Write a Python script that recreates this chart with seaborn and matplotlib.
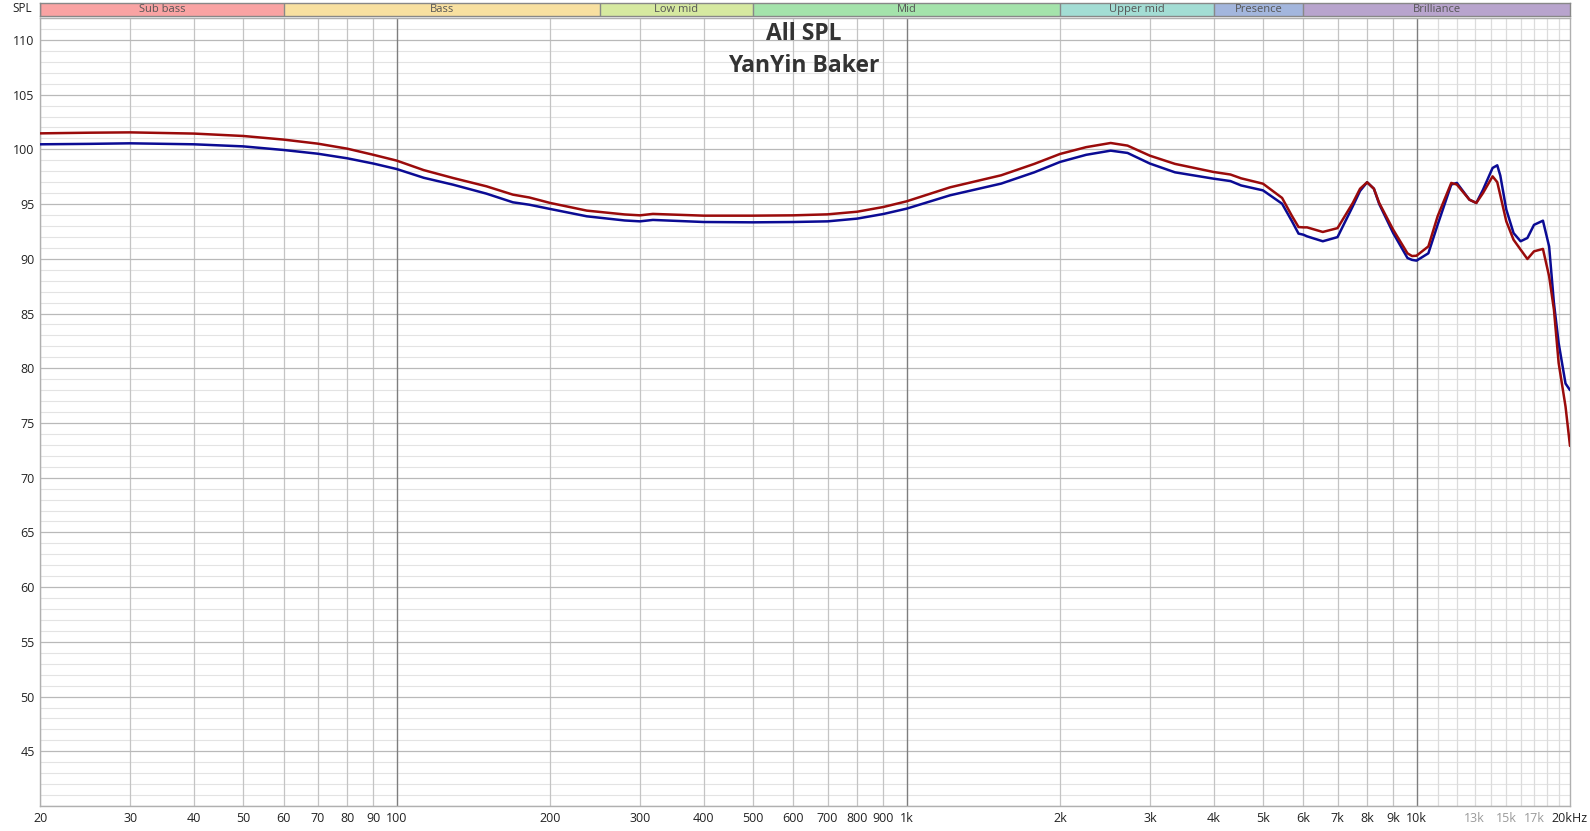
import numpy as np
import pandas as pd
import matplotlib
matplotlib.use("Agg")
import matplotlib.pyplot as plt
import seaborn as sns

# Valeurs (Hz, dB SPL)
freqs = [20, 25, 30, 40, 50, 60, 70, 80, 90, 100, 113, 129, 150, 169, 182, 200, 236,
         280, 300, 318, 400, 500, 600, 700, 800, 900, 1000, 1217, 1533, 1780, 2000,
         2250, 2513, 2712, 3000, 3360, 4000, 4316, 4530, 5000, 5450, 5700, 5870, 6000,
         6100, 6550, 7000, 7500, 7750, 8000, 8250, 8450, 9000, 9600, 9800, 10000, 10550,
         11000, 11700, 12000, 12700, 13100, 13500, 14100, 14400, 14600, 15000, 15500,
         16000, 16500, 17000, 17700, 18200, 18600, 19000, 19600, 20000]

red_spl = [101.46, 101.52, 101.55, 101.44, 101.22, 100.89, 100.52, 100.06, 99.5, 98.97,
           98.1, 97.38, 96.62, 95.86, 95.6, 95.1, 94.4, 94.05, 93.97, 94.1, 93.94, 93.94,
           93.97, 94.06, 94.3, 94.73, 95.25, 96.53, 97.63, 98.67, 99.58, 100.2, 100.58,
           100.34, 99.42, 98.67, 97.93, 97.7, 97.35, 96.86, 95.56, 93.9, 92.9, 92.87,
           92.87, 92.45, 92.8, 95.1, 96.4, 96.99, 96.4, 95.1, 92.66, 90.5, 90.25, 90.28,
           91.13, 93.88, 96.93, 96.78, 95.4, 95.1, 96.0, 97.53, 97.0, 95.8, 93.42, 91.74,
           90.84, 89.98, 90.68, 90.9, 88.4, 85.35, 80.48, 76.5, 72.9]

blue_spl = [100.46, 100.5, 100.55, 100.46, 100.27, 99.94, 99.6, 99.18, 98.7, 98.2,
            97.4, 96.77, 95.95, 95.16, 94.94, 94.55, 93.88, 93.5, 93.42, 93.55, 93.36,
            93.33, 93.36, 93.42, 93.67, 94.09, 94.58, 95.8, 96.87, 97.9, 98.85, 99.5,
            99.88, 99.67, 98.7, 97.9, 97.32, 97.1, 96.7, 96.25, 95.03, 93.42, 92.3,
            92.2, 92.05, 91.6, 91.98, 94.8, 96.2, 96.99, 96.4, 95.0, 92.35, 90.07, 89.9,
            89.83, 90.5, 93.1, 96.78, 96.93, 95.4, 95.1, 96.3, 98.3, 98.54, 97.6, 94.5,
            92.35, 91.6, 91.9, 93.1, 93.48, 91.13, 85.96, 82.3, 78.6, 78.0]

# Bandes de fréquences
band_names = ["Sub bass", "Bass", "Low mid", "Mid", "Upper mid", "Presence", "Brilliance"]
band_edges = [20, 60, 250, 500, 2000, 4000, 6000, 20000]
band_colors = ["#f9a3a3", "#f8e0a0", "#d6e9a0", "#a4e3ab", "#a3ddd4", "#a3b6dd", "#b8a4cd"]

xtick_vals = [20, 30, 40, 50, 60, 70, 80, 90, 100, 200, 300, 400, 500, 600, 700, 800, 900,
              1000, 2000, 3000, 4000, 5000, 6000, 7000, 8000, 9000, 10000, 13000, 15000,
              17000, 20000]
xtick_labels = ["20", "30", "40", "50", "60", "70", "80", "90", "100", "200", "300", "400",
                "500", "600", "700", "800", "900", "1k", "2k", "3k", "4k", "5k", "6k", "7k",
                "8k", "9k", "10k", "13k", "15k", "17k", "20kHz"]
ytick_vals = list(range(45, 111, 5))

title_lines = ["All SPL", "YanYin Baker"]

df = pd.DataFrame({
    "freq": freqs * 2,
    "spl": blue_spl + red_spl,
    "canal": ["L"] * len(freqs) + ["R"] * len(freqs),
})

sns.set_style("white")
plt.rcParams["font.family"] = ["Open Sans", "DejaVu Sans"]

W, H = 1590, 831
fig = plt.figure(figsize=(W / 100, H / 100), dpi=100)
x0, x1 = 40.3, 1570
y0, y1 = 18, 806
ax = fig.add_axes([x0 / W, 1 - y1 / H, (x1 - x0) / W, (y1 - y0) / H])
ax.set_xscale("log")
ax.set_xlim(20, 20000)
ax.set_ylim(40, 112)

# Grille
for d in range(20, 100, 10):
    ax.axvline(d, color="#c4c4c4", lw=0.9, zorder=1)
for dec in (100, 1000):
    for m in range(2, 10):
        ax.axvline(dec * m, color="#c4c4c4", lw=0.9, zorder=1)
for f in (100, 1000, 10000):
    ax.axvline(f, color="#7e7e7e", lw=1.0, zorder=1.2)
for f in range(11000, 20000, 1000):
    ax.axvline(f, color="#dcdcdc", lw=0.9, zorder=1)
for v in range(40, 113):
    if v % 5 == 0:
        ax.axhline(v, color="#b9b9b9", lw=0.9, zorder=1.1)
    else:
        ax.axhline(v, color="#e3e3e3", lw=0.8, zorder=0.9)

sns.lineplot(data=df, x="freq", y="spl", hue="canal", palette={"L": "#0b0b94", "R": "#9a0b0b"},
             linewidth=1.8, legend=False, sort=False, ax=ax, zorder=3)

ax.set_xticks(xtick_vals)
ax.set_xticklabels(xtick_labels)
ax.xaxis.set_minor_locator(matplotlib.ticker.NullLocator())
ax.set_yticks(ytick_vals)
ax.tick_params(axis="both", length=0, labelsize=9, colors="#222222", pad=4)
for lab in ax.get_xticklabels():
    if lab.get_text() in ("13k", "15k", "17k"):
        lab.set_color("#9a9a9a")
ax.set_xlabel("")
ax.set_ylabel("")
for s in ax.spines.values():
    s.set_color("#b0b0b0")
    s.set_linewidth(1.0)

# Bandeau des bandes
bax = fig.add_axes([x0 / W, 1 - 15.7 / H, (x1 - x0) / W, 13.2 / H])
bax.set_xscale("log")
bax.set_xlim(20, 20000)
bax.set_ylim(0, 1)
for name, lo, hi, c in zip(band_names, band_edges[:-1], band_edges[1:], band_colors):
    bax.axvspan(lo, hi, color=c, zorder=1)
    bax.axvline(lo, color="#888888", lw=1.0, zorder=2)
    bax.text(np.sqrt(lo * hi), 0.45, name, ha="center", va="center", fontsize=8,
             color="#555555")
bax.set_xticks([])
bax.set_yticks([])
bax.xaxis.set_minor_locator(matplotlib.ticker.NullLocator())
for s in bax.spines.values():
    s.set_color("#888888")
    s.set_linewidth(1.0)

fig.text(22 / W, 1 - 9 / H, "SPL", ha="center", va="center", fontsize=8.5, color="#222222")
fig.text(804 / W, 1 - 33.5 / H, title_lines[0], ha="center", va="center", fontsize=16.5,
         fontweight="bold", color="#333333")
fig.text(804 / W, 1 - 66 / H, title_lines[1], ha="center", va="center", fontsize=16.5,
         fontweight="bold", color="#333333")

fig.savefig("out.png", dpi=100, facecolor="white")
